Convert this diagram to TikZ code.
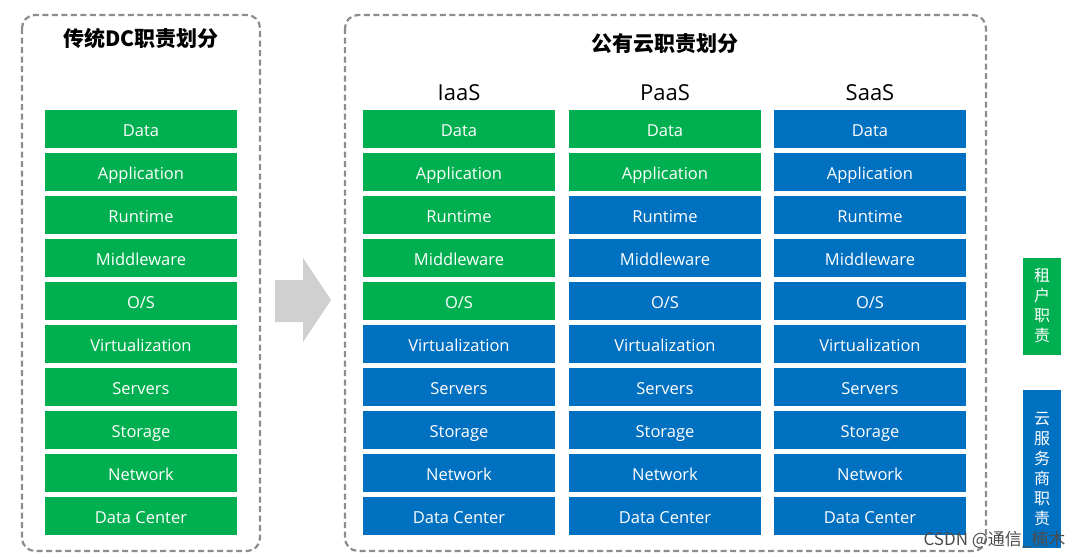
\documentclass[tikz,border=0pt]{standalone}
\usepackage{fontspec}
\usepackage{xcolor}
\setmainfont{Open Sans}
\newfontfamily\cjk{Noto Sans CJK SC}
\usetikzlibrary{positioning}

\definecolor{tenantgreen}{HTML}{00B050}
\definecolor{cloudblue}{HTML}{0070C0}
\definecolor{arrowgray}{HTML}{D0D0D0}

\begin{document}
\begin{tikzpicture}[x=1pt, y=-1pt,
    layer/.style={minimum width=192pt, minimum height=38pt, inner sep=0pt,
        text height=15pt, text depth=0pt,
        text=white, font=\fontsize{16.5}{16.5}\selectfont},
    tenant/.style={layer, fill=tenantgreen},
    provider/.style={layer, fill=cloudblue},
    frame/.style={draw=gray!90, line width=2.2pt, dash pattern=on 6pt off 3.5pt,
        rounded corners=13pt},
    title/.style={font=\cjk\bfseries\fontsize{21}{21}\selectfont},
    head/.style={font=\fontsize{22}{22}\selectfont},
    legend/.style={minimum width=38pt, text=white, inner sep=0pt, align=center,
        font=\cjk\fontsize{16}{20}\selectfont}]
    \useasboundingbox (0,0) rectangle (1072,557);

    % Frames
    \draw[frame] (22,15) rectangle (260,551);
    \draw[frame] (345,15) rectangle (986,551);

    % Titles
    \node[title] (dc-title) at (141,38) {传统DC职责划分};
    \node[title] (cloud-title) at (665,44) {公有云职责划分};

    % Traditional DC: all layers owned by the tenant
    \foreach \name [count=\i] in {Data,Application,Runtime,Middleware,O/S,
        Virtualization,Servers,Storage,Network,Data Center}
        \node[tenant] (dc-\i) at (141,129+43*\i-43) {\name};

    % Public cloud columns (tenant owns the top \own layers)
    \foreach \col/\x/\own in {iaas/459/5,paas/665/2,saas/870/0}
        \foreach \name [count=\i] in {Data,Application,Runtime,Middleware,O/S,
            Virtualization,Servers,Storage,Network,Data Center}{
            \ifnum\i>\own \def\who{provider}\else \def\who{tenant}\fi
            \node[\who] (\col-\i) at (\x,129+43*\i-43) {\name};
        }

    % Column headings
    \node[head] (iaas) at (459,93) {IaaS};
    \node[head] (paas) at (665,93) {PaaS};
    \node[head] (saas) at (870,93) {SaaS};

    % Shift arrow
    \fill[arrowgray] (275,280) -- (303,280) -- (303,258) -- (331,300)
        -- (303,342) -- (303,322) -- (275,322) -- cycle;

    % Legend
    \node[legend, fill=tenantgreen, minimum height=97pt] (key-tenant) at (1042,306)
        {租\\户\\职\\责};
    \node[legend, fill=cloudblue, minimum height=158pt] (key-provider) at (1042,469)
        {云\\服\\务\\商\\职\\责};

    % Watermark
    \node[font=\cjk\fontsize{17}{17}\selectfont, text=gray!60!black, anchor=east]
        (mark) at (1069,540) {CSDN @通信\_楠木};
\end{tikzpicture}
\end{document}
